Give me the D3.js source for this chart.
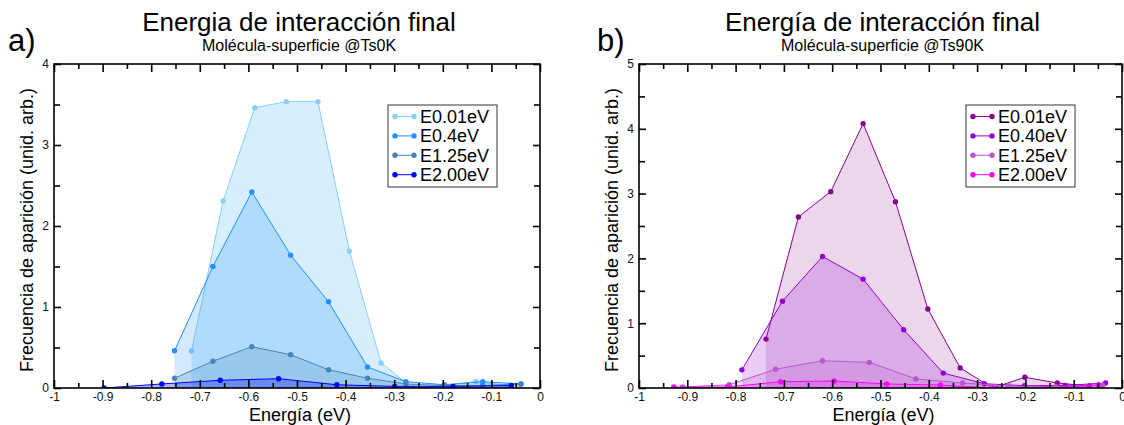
<!DOCTYPE html>
<html>
<head>
<meta charset="utf-8">
<script src="https://cdn.jsdelivr.net/npm/d3@7"></script>
<style>
  html, body { margin: 0; padding: 0; background: #fff; }
  svg { display: block; font-family: "Liberation Sans", Arial, Helvetica, sans-serif; }
</style>
</head>
<body>
<svg id="chart" width="1124" height="425"></svg>
<script>
// Final molecule–surface interaction energy distributions, two surface temperatures.

// Panel a) Ts = 0 K — [energy (eV), frequency]
const ts0_E001 = [[-0.717, 0.456], [-0.652, 2.31], [-0.587, 3.46], [-0.522, 3.535], [-0.457, 3.535],
                  [-0.392, 1.69], [-0.327, 0.31], [-0.262, 0.0], [-0.197, 0.03], [-0.132, 0.08], [-0.067, 0.03]];
const ts0_E040 = [[-0.752, 0.46], [-0.673, 1.50], [-0.593, 2.42], [-0.513, 1.64], [-0.435, 1.064],
                  [-0.355, 0.26], [-0.276, 0.078], [-0.197, 0.04], [-0.118, 0.078], [-0.039, 0.05]];
const ts0_E125 = [[-0.752, 0.12], [-0.673, 0.33], [-0.593, 0.51], [-0.513, 0.41], [-0.435, 0.225],
                  [-0.355, 0.12], [-0.276, 0.05], [-0.197, 0.03], [-0.118, 0.03], [-0.039, 0.05]];
const ts0_E200 = [[-0.897, 0.0], [-0.778, 0.05], [-0.658, 0.095], [-0.538, 0.115], [-0.418, 0.04],
                  [-0.299, 0.02], [-0.179, 0.02], [-0.059, 0.03]];

// Panel b) Ts = 90 K
const ts90_E001 = [[-0.737, 0.755], [-0.670, 2.64], [-0.603, 3.03], [-0.536, 4.08], [-0.469, 2.875],
                   [-0.402, 1.22], [-0.335, 0.31], [-0.268, 0.0], [-0.201, 0.165], [-0.134, 0.077], [-0.067, 0.03]];
const ts90_E040 = [[-0.787, 0.28], [-0.703, 1.34], [-0.620, 2.03], [-0.536, 1.68], [-0.452, 0.90],
                   [-0.370, 0.23], [-0.285, 0.066], [-0.202, 0.035], [-0.118, 0.04], [-0.034, 0.077]];
const ts90_E125 = [[-0.910, 0.015], [-0.813, 0.05], [-0.717, 0.29], [-0.620, 0.42], [-0.523, 0.395],
                   [-0.427, 0.14], [-0.330, 0.077], [-0.233, 0.03], [-0.137, 0.02], [-0.040, 0.04]];
const ts90_E200 = [[-0.928, 0.015], [-0.817, 0.015], [-0.707, 0.097], [-0.596, 0.108], [-0.487, 0.062],
                   [-0.376, 0.046], [-0.269, 0.0], [-0.158, 0.0], [-0.049, 0.05]];

const legendA = ["E0.01eV", "E0.4eV", "E1.25eV", "E2.00eV"];
const legendB = ["E0.01eV", "E0.40eV", "E1.25eV", "E2.00eV"];

const xTickValues = [-1, -0.9, -0.8, -0.7, -0.6, -0.5, -0.4, -0.3, -0.2, -0.1, 0];
const xTickLabels = ["-1", "-0.9", "-0.8", "-0.7", "-0.6", "-0.5", "-0.4", "-0.3", "-0.2", "-0.1", "0"];
const yTicksA = [0, 1, 2, 3, 4];
const yTicksB = [0, 1, 2, 3, 4, 5];

const svg = d3.select("#chart");

function drawPanel(p) {
  const x = d3.scaleLinear().domain([-1, 0]).range([p.left, p.right]);
  const y = d3.scaleLinear().domain([0, p.yMax]).range([p.bottom, p.top]);
  const g = svg.append("g");

  const clipId = "clip-" + p.tag;
  g.append("clipPath").attr("id", clipId)
    .append("rect").attr("x", p.left).attr("y", p.top)
    .attr("width", p.right - p.left).attr("height", p.bottom - p.top);

  const plot = g.append("g").attr("clip-path", `url(#${clipId})`);
  const area = d3.area().x(d => x(d[0])).y0(y(0)).y1(d => y(d[1]));
  const line = d3.line().x(d => x(d[0])).y(d => y(d[1]));

  p.series.forEach(s => {
    plot.append("path").datum(s.data).attr("d", area)
      .attr("fill", s.fill).attr("fill-opacity", s.alpha).attr("stroke", "none");
    plot.append("path").datum(s.data).attr("d", line)
      .attr("fill", "none").attr("stroke", s.color).attr("stroke-width", 1);
    plot.selectAll(null).data(s.data).enter().append("circle")
      .attr("cx", d => x(d[0])).attr("cy", d => y(d[1])).attr("r", 2.7)
      .attr("fill", s.color);
  });

  // Axes: ticks point into the frame on all four sides
  const minorX = d3.range(-0.95, 0, 0.1);
  const minorY = d3.range(0.5, p.yMax, 1);
  const fmtX = d => xTickLabels[xTickValues.indexOf(d)];

  const bottom = g.append("g").attr("transform", `translate(0,${p.bottom})`)
    .call(d3.axisBottom(x).tickValues(xTickValues).tickSize(-8).tickFormat(fmtX));
  bottom.selectAll(".tick text").attr("y", 2).attr("dy", "0.9em");
  const bottomMinor = g.append("g").attr("transform", `translate(0,${p.bottom})`)
    .call(d3.axisBottom(x).tickValues(minorX).tickSize(-5).tickFormat(""));
  const top = g.append("g").attr("transform", `translate(0,${p.top})`)
    .call(d3.axisTop(x).tickValues(xTickValues).tickSize(-8).tickFormat(""));
  const topMinor = g.append("g").attr("transform", `translate(0,${p.top})`)
    .call(d3.axisTop(x).tickValues(minorX).tickSize(-5).tickFormat(""));

  const leftAx = g.append("g").attr("transform", `translate(${p.left},0)`)
    .call(d3.axisLeft(y).tickValues(p.yTicks).tickSize(-7).tickFormat(d3.format("d")));
  leftAx.selectAll(".tick text").attr("x", -5);
  const leftMinor = g.append("g").attr("transform", `translate(${p.left},0)`)
    .call(d3.axisLeft(y).tickValues(minorY).tickSize(-6).tickFormat(""));
  const rightAx = g.append("g").attr("transform", `translate(${p.right},0)`)
    .call(d3.axisRight(y).tickValues(p.yTicks).tickSize(-7).tickFormat(""));
  const rightMinor = g.append("g").attr("transform", `translate(${p.right},0)`)
    .call(d3.axisRight(y).tickValues(minorY).tickSize(-6).tickFormat(""));

  [bottom, bottomMinor, top, topMinor, leftAx, leftMinor, rightAx, rightMinor].forEach(a => {
    a.select(".domain").remove();
    a.selectAll(".tick line").attr("stroke", "#000").attr("stroke-width", 1.6);
    a.selectAll(".tick text").attr("font-size", 12).attr("fill", "#111")
      .attr("font-family", "Liberation Sans, Arial, sans-serif");
  });

  // Frame
  g.append("rect").attr("x", p.left).attr("y", p.top)
    .attr("width", p.right - p.left).attr("height", p.bottom - p.top)
    .attr("fill", "none").attr("stroke", "#000").attr("stroke-width", 1.6);

  const cx = (p.left + p.right) / 2;
  // Titles
  g.append("text").attr("x", cx + 2).attr("y", 30.5).attr("text-anchor", "middle")
    .attr("font-size", 26).attr("fill", "#000").text(p.title);
  g.append("text").attr("x", cx + 2).attr("y", 50.5).attr("text-anchor", "middle")
    .attr("font-size", 16).attr("fill", "#000").text(p.subtitle);
  g.append("text").attr("x", p.labelX).attr("y", 51)
    .attr("font-size", 31).attr("fill", "#000").text(p.label);

  // Axis titles
  g.append("text").attr("x", cx + 3).attr("y", 421).attr("text-anchor", "middle")
    .attr("font-size", 18).attr("fill", "#000").text("Energía (eV)");
  g.append("text")
    .attr("transform", `translate(${p.left - 21},${(p.top + p.bottom) / 2 + 4}) rotate(-90)`)
    .attr("text-anchor", "middle").attr("font-size", 18).attr("fill", "#000")
    .text("Frecuencia de aparición (unid. arb.)");

  // Legend
  const lg = g.append("g");
  lg.append("rect").attr("x", p.legX).attr("y", 105).attr("width", 109).attr("height", 82)
    .attr("fill", "#fff").attr("stroke", "#333").attr("stroke-width", 1);
  p.series.forEach((s, i) => {
    const yy = 116.5 + i * 19.4;
    lg.append("line").attr("x1", p.legX + 7).attr("x2", p.legX + 26).attr("y1", yy).attr("y2", yy)
      .attr("stroke", s.color).attr("stroke-width", 1);
    [p.legX + 7, p.legX + 26].forEach(xx =>
      lg.append("circle").attr("cx", xx).attr("cy", yy).attr("r", 2.7).attr("fill", s.color));
    lg.append("text").attr("x", p.legX + 32).attr("y", yy + 6.5)
      .attr("font-size", 18).attr("fill", "#000").text(p.names[i]);
  });
}

drawPanel({
  tag: "a", left: 54, right: 540, top: 64, bottom: 388, yMax: 4, yTicks: yTicksA,
  title: "Energia de interacción final", subtitle: "Molécula-superficie @Ts0K",
  label: "a)", labelX: 8, legX: 388, names: legendA,
  series: [
    { data: ts0_E001, color: "#87cefa", fill: "#87cefa", alpha: 0.34 },
    { data: ts0_E040, color: "#1e90ff", fill: "#1e90ff", alpha: 0.2 },
    { data: ts0_E125, color: "#4682b4", fill: "#4682b4", alpha: 0.22 },
    { data: ts0_E200, color: "#0000ff", fill: "#0000ff", alpha: 0.3 }
  ]
});

drawPanel({
  tag: "b", left: 639, right: 1122, top: 64, bottom: 388, yMax: 5, yTicks: yTicksB,
  title: "Energía de interacción final", subtitle: "Molécula-superficie @Ts90K",
  label: "b)", labelX: 597, legX: 966, names: legendB,
  series: [
    { data: ts90_E001, color: "#8b008b", fill: "#8b008b", alpha: 0.16 },
    { data: ts90_E040, color: "#9400d3", fill: "#9400d3", alpha: 0.2 },
    { data: ts90_E125, color: "#ba55d3", fill: "#ba55d3", alpha: 0.2 },
    { data: ts90_E200, color: "#ff00ff", fill: "#ff00ff", alpha: 0.22 }
  ]
});
</script>
</body>
</html>
